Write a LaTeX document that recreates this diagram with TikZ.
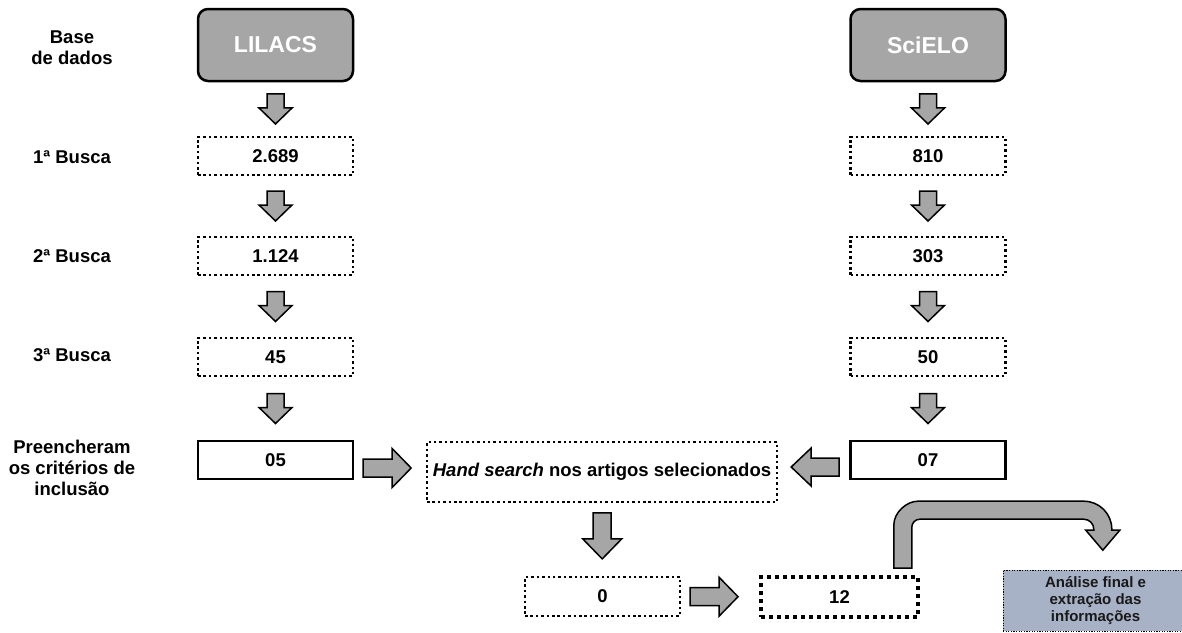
\documentclass[tikz,border=0pt]{standalone}
\usepackage{fontspec}
\setmainfont{Liberation Sans}
\usetikzlibrary{calc}
\definecolor{boxgray}{RGB}{166,166,166}
\definecolor{anafill}{RGB}{168,178,199}
\tikzset{
  dbbox/.style={draw, line width=2.5pt, rounded corners=10pt, fill=boxgray, text=white,
    font=\fontsize{23}{27}\selectfont\bfseries, minimum width=155pt, minimum height=72pt, inner sep=0pt},
  dotbox/.style={draw, line width=2.6pt, dash pattern=on 2.5pt off 2.9pt, minimum width=155pt,
    minimum height=38pt, inner sep=0pt, font=\fontsize{18.5}{21}\selectfont\bfseries},
  solidbox/.style={draw, line width=2.6pt, minimum width=155pt, minimum height=38pt, inner sep=0pt,
    font=\fontsize{18.5}{21}\selectfont\bfseries},
  thickdot/.style={dotbox, line width=3.6pt, dash pattern=on 3.8pt off 4.2pt},
  lbl/.style={align=center, inner sep=0pt, font=\fontsize{18.5}{21}\selectfont\bfseries},
  anabox/.style={draw, line width=1pt, dash pattern=on 1.2pt off 1.4pt, fill=anafill, text=black!90,
    minimum width=185pt, minimum height=61pt, inner sep=0pt, align=center,
    font=\fontsize{15}{17}\selectfont\bfseries},
  barrow/.style={fill=boxgray, draw=black, line width=1.5pt, line join=miter}
}
\newcommand\sdarr[1]{\draw[barrow,shift={#1}] (-8.5,-15) -- (8.5,-15) -- (8.5,-1) -- (16.5,-1) -- (0,15) -- (-16.5,-1) -- (-8.5,-1) -- cycle;}
\newcommand\bdarr[1]{\draw[barrow,shift={#1}] (-9,-23) -- (9,-23) -- (9,3) -- (19.5,3) -- (0,23) -- (-19.5,3) -- (-9,3) -- cycle;}
\newcommand\rarr[1]{\draw[barrow,shift={#1}] (-24,-9) -- (5,-9) -- (5,-19.5) -- (24,0) -- (5,19.5) -- (5,9) -- (-24,9) -- cycle;}
\newcommand\larr[1]{\draw[barrow,shift={#1}] (24,-9) -- (-4,-9) -- (-4,-19) -- (-24,0) -- (-4,19) -- (-4,9) -- (24,9) -- cycle;}
\begin{document}
\begin{tikzpicture}[x=1pt,y=-1pt]
\useasboundingbox (0,0) rectangle (1182,632);
% left labels
\node[lbl] (tb) at (72,47.5) {Base\\de dados};
\node[lbl] (t1) at (72,157) {1ª Busca};
\node[lbl] (t2) at (72,256) {2ª Busca};
\node[lbl] (t3) at (72,355) {3ª Busca};
\node[lbl] (t4) at (72,468) {Preencheram\\os critérios de\\inclusão};
% LILACS column
\node[dbbox] (l0) at (275.5,45) {LILACS};
\node[dotbox] (l1) at (275.5,156) {2.689};
\node[dotbox] (l2) at (275.5,256) {1.124};
\node[dotbox] (l3) at (275.5,357) {45};
\node[solidbox] (l4) at (275.5,460) {05};
% SciELO column
\node[dbbox] (s0) at (928,45) {SciELO};
\node[dotbox] (s1) at (928,156) {810};
\node[dotbox] (s2) at (928,256) {303};
\node[dotbox] (s3) at (928,357) {50};
\node[solidbox] (s4) at (928,460) {07};
% bottom part
\node[dotbox, minimum width=350pt, minimum height=60pt] (hs) at (602,472) {\textit{Hand search} nos artigos selecionados};
\node[dotbox, minimum height=39pt] (z0) at (602.5,596.5) {0};
\node[thickdot, minimum width=157pt, minimum height=40pt] (z12) at (839.5,597) {12};
\node[anabox] (ana) at (1095.5,600.5) {Análise final e\\extração das\\informações};
% arrows
\sdarr{($(l0.south)!0.5!(l1.north)$)}
\sdarr{($(l1.south)!0.5!(l2.north)$)}
\sdarr{($(l2.south)!0.5!(l3.north)$)}
\sdarr{($(l3.south)!0.5!(l4.north)$)}
\sdarr{($(s0.south)!0.5!(s1.north)$)}
\sdarr{($(s1.south)!0.5!(s2.north)$)}
\sdarr{($(s2.south)!0.5!(s3.north)$)}
\sdarr{($(s3.south)!0.5!(s4.north)$)}
\rarr{($(l4.east |- hs.center)!0.46!(hs.west)+(0,-4)$)}
\larr{($(hs.east)!0.52!(s4.west |- hs.center)+(0,-5)$)}
\bdarr{($(hs.south)!0.45!(z0.north)$)}
\rarr{($(z0.east)!0.42!(z12.west)$)}
% bent arrow from 12 to analysis
\coordinate (bs) at ($(z12.north east)+(-17,0)$);
\draw[barrow,shift={(bs)}] (-9,-7) -- (-9,-50) .. controls (-9,-63.2) and (4.2,-74) .. (15,-74)
  -- (181,-74) .. controls (196.5,-74) and (209,-61.5) .. (209,-46) -- (209,-45) -- (217,-45)
  -- (200,-25) -- (183,-45) -- (191,-45) -- (191,-46) .. controls (191,-51.5) and (186.5,-56) .. (181,-56)
  -- (17,-56) .. controls (12.6,-56) and (9,-52.4) .. (9,-48) -- (9,-7) -- cycle;
\end{tikzpicture}
\end{document}
